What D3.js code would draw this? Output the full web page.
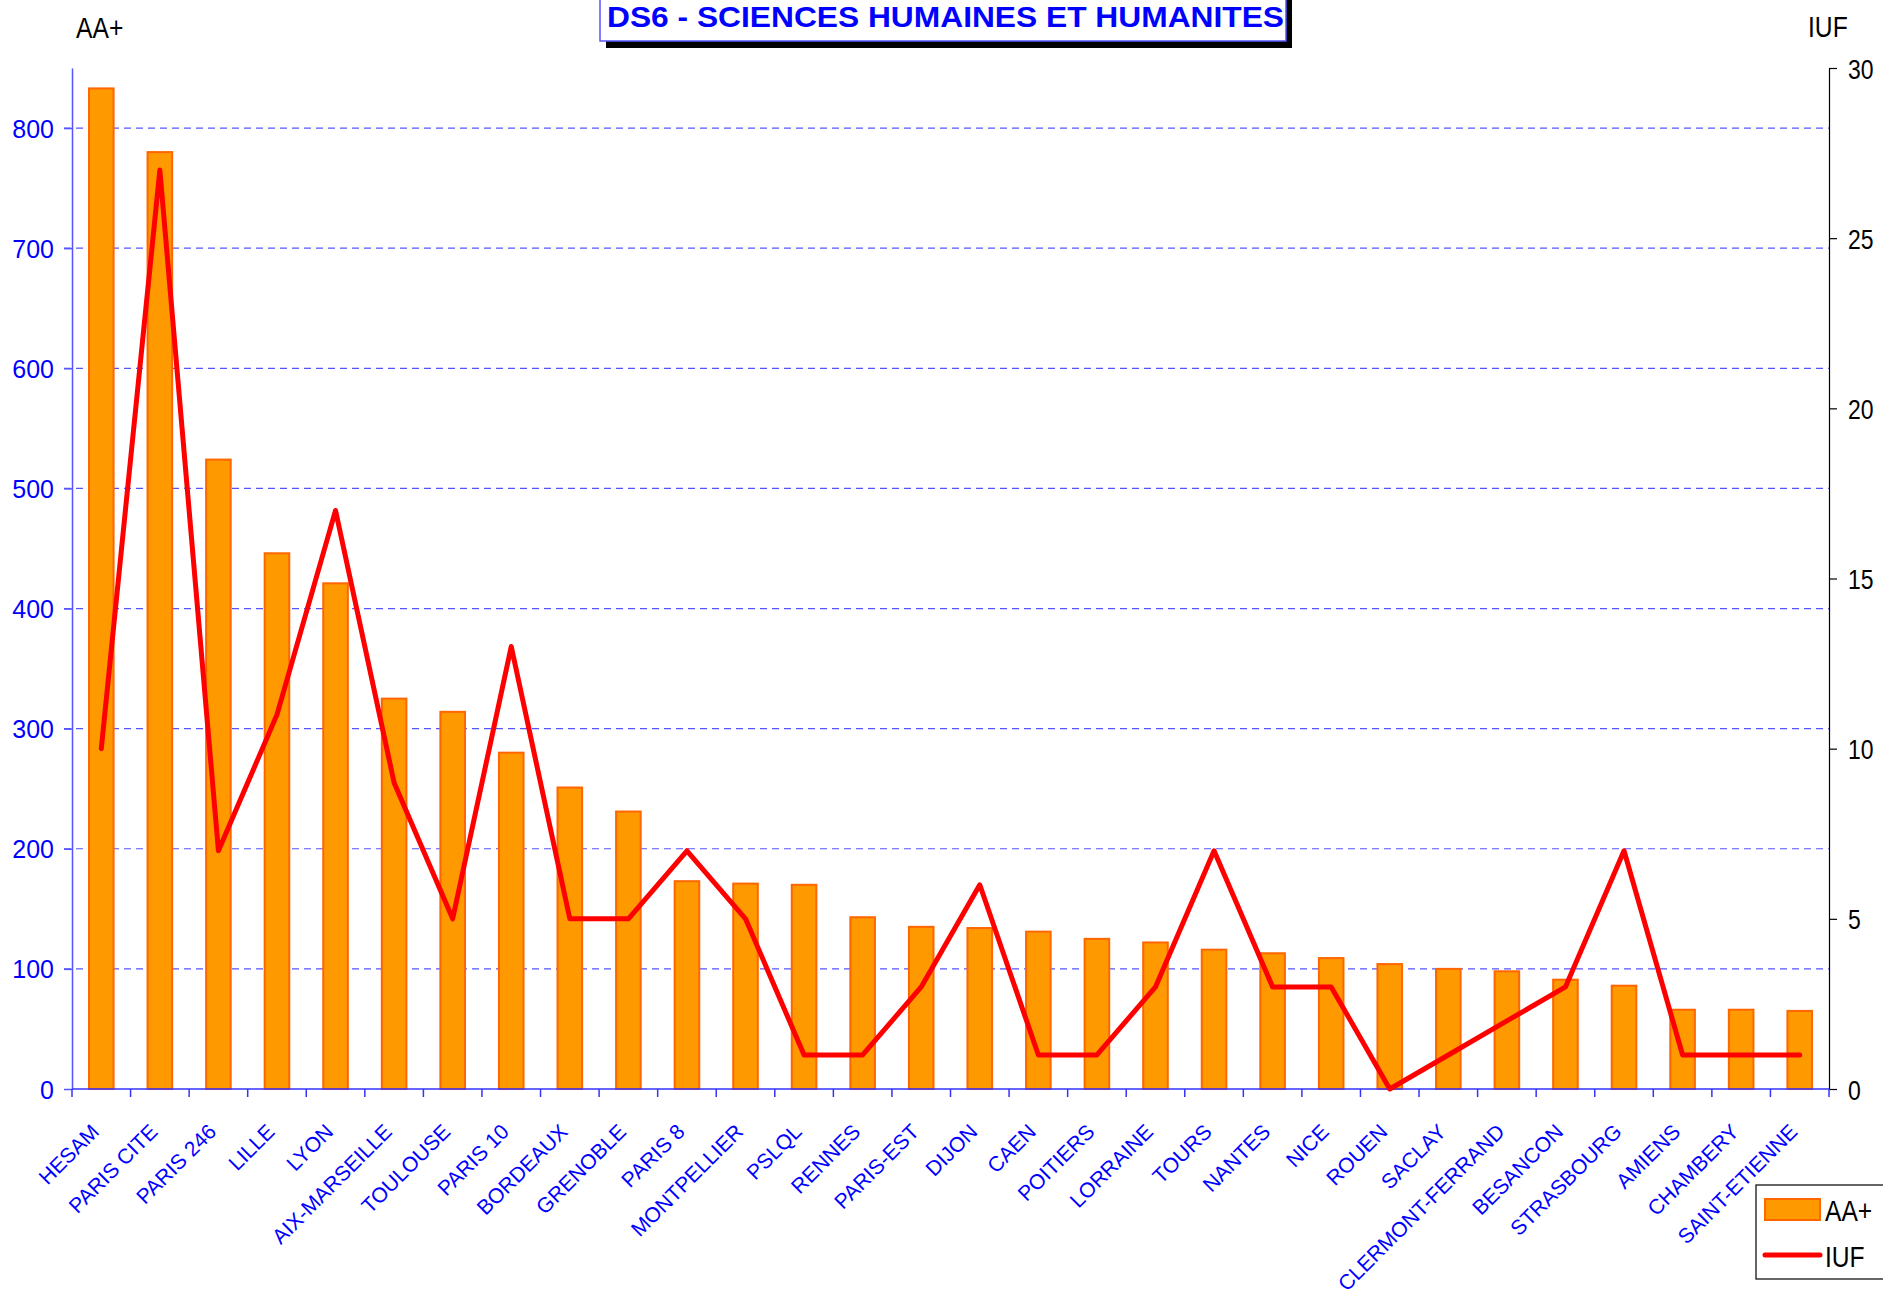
<!DOCTYPE html>
<html>
<head>
<meta charset="utf-8">
<script src="https://cdn.jsdelivr.net/npm/d3@7"></script>
<style>
  html, body { margin: 0; padding: 0; background: #fff; }
  svg { display: block; }
</style>
</head>
<body>
<svg id="chart" width="1883" height="1295"></svg>
<script>
const categories = ["HESAM","PARIS CITE","PARIS 246","LILLE","LYON","AIX-MARSEILLE","TOULOUSE","PARIS 10","BORDEAUX","GRENOBLE","PARIS 8","MONTPELLIER","PSLQL","RENNES","PARIS-EST","DIJON","CAEN","POITIERS","LORRAINE","TOURS","NANTES","NICE","ROUEN","SACLAY","CLERMONT-FERRAND","BESANCON","STRASBOURG","AMIENS","CHAMBERY","SAINT-ETIENNE"];
const aaPlus = [833,780,524,446,421,325,314,280,251,231,173,171,170,143,135,134,131,125,122,116,113,109,104,100,98,91,86,66,66,65];
const iuf = [10,27,7,11,17,9,5,13,5,5,7,5,1,1,3,6,1,1,3,7,3,3,0,1,2,3,7,1,1,1];
const leftTicks = [0,100,200,300,400,500,600,700,800];
const gridTicks = [100,200,300,400,500,600,700,800];
const rightTicks = [0,5,10,15,20,25,30];
const titleText = "DS6 - SCIENCES HUMAINES ET HUMANITES";

const svg = d3.select("#chart");
const L = 72, R = 1829, T = 68, B = 1089;
const regular = "'Liberation Sans',Arial,sans-serif";

// emulate a narrow face by compressing glyphs horizontally
function narrowify(sel, f) {
  sel.each(function () {
    const w = this.getComputedTextLength();
    d3.select(this).attr("textLength", w * f).attr("lengthAdjust", "spacingAndGlyphs");
  });
}

const x = d3.scaleBand().domain(categories).range([L, R]).paddingInner(0).paddingOuter(0);
const yL = d3.scaleLinear().domain([0, 850]).range([B, T]);
const yR = d3.scaleLinear().domain([0, 30]).range([B, T]);
const bw = x.bandwidth();
const barW = bw * 0.42;

// gridlines
svg.append("g").selectAll("line").data(gridTicks).join("line")
  .attr("x1", L - 8).attr("x2", R)
  .attr("y1", d => yL(d)).attr("y2", d => yL(d))
  .attr("stroke", "#5555ff").attr("stroke-width", 1.2)
  .attr("stroke-dasharray", "7,5");

// bars
svg.append("g").selectAll("rect").data(categories).join("rect")
  .attr("x", (c) => x(c) + bw / 2 - barW / 2)
  .attr("width", barW)
  .attr("y", (c, i) => yL(aaPlus[i]))
  .attr("height", (c, i) => B - yL(aaPlus[i]))
  .attr("fill", "#ff9900")
  .attr("stroke", "#ff6600").attr("stroke-width", 2);

// left axis
const axL = d3.axisLeft(yL).tickValues(leftTicks).tickSize(8).tickSizeOuter(0).tickPadding(10);
const gL = svg.append("g").attr("transform", `translate(${L},0)`).call(axL);
gL.select(".domain").attr("stroke", "#5555ff").attr("stroke-width", 1.5);
gL.selectAll(".tick line").attr("stroke", "#5555ff").attr("stroke-width", 1.5);
gL.selectAll(".tick text").attr("fill", "#0000ff").attr("font-family", regular).attr("font-size", 25).attr("dy", "0.36em");

// right axis
const axR = d3.axisRight(yR).tickValues(rightTicks).tickSize(8).tickSizeOuter(0).tickPadding(11);
const gR = svg.append("g").attr("transform", `translate(${R},0)`).call(axR);
gR.select(".domain").attr("stroke", "#000").attr("stroke-width", 1.2);
gR.selectAll(".tick line").attr("stroke", "#000").attr("stroke-width", 1.2);
gR.selectAll(".tick text").attr("fill", "#000").attr("font-family", regular).attr("font-size", 28).attr("dy", "0.36em")
  .call(narrowify, 0.82);

// bottom axis
svg.append("line").attr("x1", L).attr("x2", R).attr("y1", B).attr("y2", B)
  .attr("stroke", "#3333ff").attr("stroke-width", 1.5);
const bounds = categories.map(c => x(c)).concat([x.range()[1]]);
svg.append("g").selectAll("line").data(bounds).join("line")
  .attr("x1", d => d).attr("x2", d => d).attr("y1", B).attr("y2", B + 8)
  .attr("stroke", "#3333ff").attr("stroke-width", 1.5);

// x labels
svg.append("g").selectAll("text").data(categories).join("text")
  .attr("transform", c => `translate(${x(c) + bw / 2 - 1},${B + 44}) rotate(-45)`)
  .attr("text-anchor", "end")
  .attr("fill", "#0000ff").attr("font-family", regular).attr("font-size", 21)
  .text(c => c);

// IUF line
const line = d3.line().x((d, i) => x(categories[i]) + bw / 2).y(d => yR(d));
svg.append("path").datum(iuf).attr("d", line)
  .attr("fill", "none").attr("stroke", "#ff0000").attr("stroke-width", 5)
  .attr("stroke-linejoin", "round").attr("stroke-linecap", "round");

// axis titles
svg.append("text").attr("x", 76).attr("y", 38).attr("font-family", regular).attr("font-size", 29).attr("fill", "#000").text("AA+")
  .call(narrowify, 0.85);
svg.append("text").attr("x", 1808).attr("y", 37).attr("font-family", regular).attr("font-size", 29).attr("fill", "#000").text("IUF")
  .call(narrowify, 0.85);

// title box with shadow
svg.append("rect").attr("x", 606).attr("y", -20).attr("width", 686).attr("height", 68).attr("fill", "#000");
svg.append("rect").attr("x", 600).attr("y", -20).attr("width", 686).attr("height", 61).attr("fill", "#fff")
  .attr("stroke", "#5555ff").attr("stroke-width", 1.5);
svg.append("text").attr("x", 607).attr("y", 27).attr("font-family", regular).attr("font-weight", "bold")
  .attr("font-size", 30).attr("fill", "#0000ff")
  .attr("textLength", 677).attr("lengthAdjust", "spacingAndGlyphs").text(titleText);

// legend
const lg = svg.append("g");
lg.append("rect").attr("x", 1756).attr("y", 1185).attr("width", 140).attr("height", 94)
  .attr("fill", "#fff").attr("stroke", "#000").attr("stroke-width", 1.2);
lg.append("rect").attr("x", 1765).attr("y", 1199).attr("width", 55).attr("height", 21)
  .attr("fill", "#ff9900").attr("stroke", "#ff6600").attr("stroke-width", 2);
lg.append("line").attr("x1", 1765).attr("x2", 1820).attr("y1", 1255).attr("y2", 1255)
  .attr("stroke", "#ff0000").attr("stroke-width", 5).attr("stroke-linecap", "round");
lg.append("text").attr("x", 1825).attr("y", 1221).attr("font-family", regular).attr("font-size", 30).attr("fill", "#000").text("AA+")
  .call(narrowify, 0.82);
lg.append("text").attr("x", 1825).attr("y", 1267).attr("font-family", regular).attr("font-size", 30).attr("fill", "#000").text("IUF")
  .call(narrowify, 0.82);
</script>
</body>
</html>
